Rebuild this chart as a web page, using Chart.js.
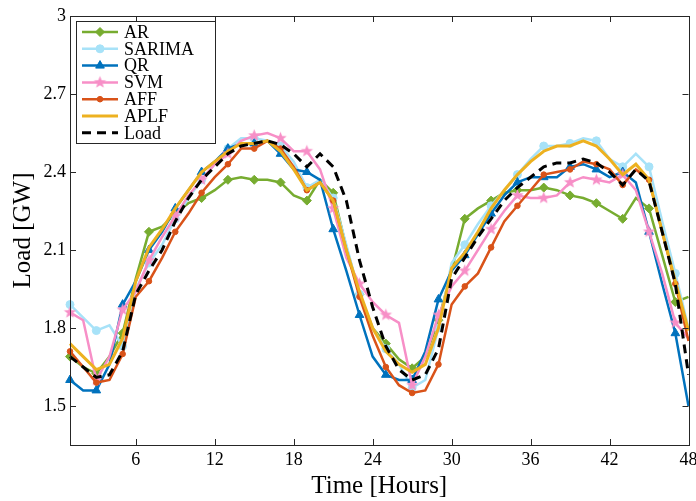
<!DOCTYPE html>
<html>
<head>
<meta charset="utf-8">
<script src="https://cdn.jsdelivr.net/npm/chart.js@4"></script>
<style>
  html, body { margin: 0; padding: 0; background: #fff; }
  canvas { display: block; }
</style>
</head>
<body>
<canvas id="grafico" width="696" height="501"></canvas>
<script>
// horas (eixo x)
const horas = [1, 2, 3, 4, 5, 6, 7, 8, 9, 10, 11, 12, 13, 14, 15, 16, 17, 18, 19, 20, 21, 22, 23, 24,
               25, 26, 27, 28, 29, 30, 31, 32, 33, 34, 35, 36, 37, 38, 39, 40, 41, 42, 43, 44, 45, 46, 47, 48];

// séries (GW)
const ar = [1.69, 1.65, 1.625, 1.69, 1.78, 1.99, 2.17, 2.19, 2.24, 2.28, 2.30, 2.33, 2.37, 2.38, 2.37, 2.37,
            2.36, 2.31, 2.29, 2.37, 2.32, 2.11, 1.93, 1.80, 1.74, 1.68, 1.645, 1.69, 1.83, 2.02, 2.22, 2.26,
            2.29, 2.32, 2.33, 2.33, 2.34, 2.33, 2.31, 2.30, 2.28, 2.25, 2.22, 2.30, 2.26, 2.08, 1.90, 1.92];
const sarima = [1.89, 1.84, 1.79, 1.81, 1.73, 1.95, 2.05, 2.12, 2.22, 2.30, 2.37, 2.43, 2.49, 2.53, 2.53, 2.52,
                2.50, 2.44, 2.34, 2.37, 2.30, 2.12, 1.93, 1.80, 1.72, 1.66, 1.57, 1.60, 1.80, 2.05, 2.12, 2.20,
                2.27, 2.33, 2.39, 2.45, 2.50, 2.50, 2.51, 2.53, 2.52, 2.45, 2.42, 2.47, 2.42, 2.21, 2.01, 1.80];
const qr = [1.60, 1.56, 1.56, 1.66, 1.89, 1.98, 2.10, 2.17, 2.26, 2.33, 2.40, 2.44, 2.49, 2.51, 2.51, 2.52,
            2.47, 2.41, 2.40, 2.37, 2.18, 2.02, 1.85, 1.69, 1.62, 1.60, 1.60, 1.71, 1.91, 2.02, 2.08, 2.16,
            2.24, 2.31, 2.36, 2.38, 2.38, 2.38, 2.42, 2.43, 2.41, 2.38, 2.40, 2.36, 2.17, 1.97, 1.78, 1.50];
const svm = [1.86, 1.83, 1.60, 1.69, 1.87, 1.94, 2.06, 2.15, 2.23, 2.31, 2.37, 2.43, 2.47, 2.52, 2.54, 2.55,
             2.53, 2.48, 2.48, 2.41, 2.26, 2.07, 1.97, 1.90, 1.85, 1.82, 1.58, 1.69, 1.85, 1.96, 2.02, 2.10,
             2.18, 2.25, 2.31, 2.30, 2.30, 2.31, 2.36, 2.38, 2.37, 2.36, 2.39, 2.33, 2.17, 2.01, 1.82, 1.76];
const aff = [1.71, 1.65, 1.59, 1.60, 1.70, 1.92, 1.98, 2.07, 2.17, 2.24, 2.32, 2.38, 2.43, 2.49, 2.49, 2.52,
             2.49, 2.42, 2.33, 2.36, 2.29, 2.10, 1.92, 1.77, 1.65, 1.58, 1.55, 1.56, 1.66, 1.89, 1.96, 2.01,
             2.11, 2.21, 2.27, 2.33, 2.39, 2.40, 2.41, 2.44, 2.43, 2.41, 2.35, 2.41, 2.37, 2.17, 1.97, 1.75];
const aplf = [1.74, 1.69, 1.64, 1.66, 1.76, 1.98, 2.11, 2.18, 2.26, 2.33, 2.40, 2.44, 2.48, 2.51, 2.51, 2.52,
              2.48, 2.41, 2.33, 2.36, 2.29, 2.10, 1.94, 1.80, 1.71, 1.66, 1.63, 1.66, 1.80, 2.03, 2.09, 2.17,
              2.26, 2.33, 2.39, 2.44, 2.48, 2.50, 2.50, 2.52, 2.50, 2.45, 2.39, 2.43, 2.37, 2.17, 1.98, 1.79];
const carga = [1.69, 1.65, 1.61, 1.62, 1.71, 1.93, 2.02, 2.10, 2.21, 2.30, 2.37, 2.42, 2.47, 2.50, 2.51, 2.52,
               2.505, 2.47, 2.42, 2.47, 2.42, 2.29, 2.06, 1.88, 1.73, 1.64, 1.60, 1.62, 1.72, 1.99, 2.07, 2.15,
               2.22, 2.29, 2.34, 2.38, 2.42, 2.435, 2.435, 2.45, 2.435, 2.40, 2.35, 2.41, 2.365, 2.17, 1.97, 1.62];

const xTicks = [6, 12, 18, 24, 30, 36, 42, 48];
const yTicks = [1.5, 1.8, 2.1, 2.4, 2.7, 3];
const yTickLabels = ['1.5', '1.8', '2.1', '2.4', '2.7', '3'];

const FONTE = '"Liberation Serif", "Times New Roman", serif';
const EIXO = '#262626';

// estrela de 5 pontas (pentagrama) para o SVM
function criarEstrela(cor, r) {
    const c = document.createElement('canvas');
    const s = Math.ceil(r * 2 + 2);
    c.width = s; c.height = s;
    const g = c.getContext('2d');
    g.beginPath();
    for (let i = 0; i < 10; i++) {
        const rr = i % 2 === 0 ? r : r * 0.42;
        const a = -Math.PI / 2 + i * Math.PI / 5;
        const px = s / 2 + rr * Math.cos(a);
        const py = s / 2 + rr * Math.sin(a);
        if (i === 0) g.moveTo(px, py); else g.lineTo(px, py);
    }
    g.closePath();
    g.fillStyle = cor;
    g.fill();
    return c;
}
const estrela = criarEstrela('#F78FC7', 6.5);

// marcadores só nas horas ímpares
const aCada2 = r => ctx => (ctx.dataIndex % 2 === 0 ? r : 0);

function serie(label, data, cor, estilo, raio, ordem, extra) {
    return Object.assign({
        label: label,
        data: horas.map((h, i) => ({ x: h, y: data[i] })),
        borderColor: cor,
        backgroundColor: cor,
        pointBackgroundColor: cor,
        pointBorderColor: cor,
        pointBorderWidth: 1,
        pointStyle: estilo,
        pointRadius: aCada2(raio),
        pointHoverRadius: aCada2(raio),
        borderWidth: 2.5,
        tension: 0,
        fill: false,
        clip: 8,
        order: ordem,
        legendRaio: raio
    }, extra || {});
}

const datasets = [
    serie('AR', ar, '#77AC30', 'rectRot', 4.5, 6),
    serie('SARIMA', sarima, '#A7E2F8', 'circle', 4, 5),
    serie('QR', qr, '#0072BD', 'triangle', 5, 4),
    serie('SVM', svm, '#F78FC7', estrela, 6.5, 3),
    serie('AFF', aff, '#D95319', 'circle', 2.8, 2),
    serie('APLF', aplf, '#EDB120', false, 0, 1, { borderWidth: 3 }),
    serie('Load', carga, '#000000', false, 0, 0, { borderWidth: 3, borderDash: [9, 6] })
];

// caixa do eixo com marcas para dentro (estilo MATLAB)
const caixaPlugin = {
    id: 'caixa',
    afterDatasetsDraw(chart) {
        const { ctx, chartArea: a, scales } = chart;
        ctx.save();
        ctx.strokeStyle = EIXO;
        ctx.lineWidth = 1;
        ctx.strokeRect(Math.round(a.left) + 0.5, Math.round(a.top) + 0.5,
                       Math.round(a.right - a.left), Math.round(a.bottom - a.top));
        ctx.beginPath();
        const t = 6;
        xTicks.forEach(v => {
            const px = Math.round(scales.x.getPixelForValue(v)) + 0.5;
            ctx.moveTo(px, a.bottom); ctx.lineTo(px, a.bottom - t);
            ctx.moveTo(px, a.top); ctx.lineTo(px, a.top + t);
        });
        yTicks.forEach(v => {
            const py = Math.round(scales.y.getPixelForValue(v)) + 0.5;
            ctx.moveTo(a.left, py); ctx.lineTo(a.left + t, py);
            ctx.moveTo(a.right, py); ctx.lineTo(a.right - t, py);
        });
        ctx.stroke();
        ctx.restore();
    }
};

// legenda desenhada dentro da área do gráfico
const legendaPlugin = {
    id: 'legendaInterna',
    afterDraw(chart) {
        const { ctx, chartArea: a } = chart;
        const x0 = a.left + 6, y0 = a.top + 5, w = 139, h = 122;
        ctx.save();
        ctx.fillStyle = '#fff';
        ctx.fillRect(x0, y0, w, h);
        ctx.strokeStyle = EIXO;
        ctx.lineWidth = 1;
        ctx.strokeRect(x0 + 0.5, y0 + 0.5, w, h);
        ctx.font = '18px ' + FONTE;
        ctx.textBaseline = 'middle';
        ctx.fillStyle = '#000';
        chart.data.datasets.forEach((ds, i) => {
            const yy = y0 + 11 + i * 16.8;
            ctx.save();
            ctx.strokeStyle = ds.borderColor;
            ctx.lineWidth = ds.borderWidth;
            ctx.setLineDash(ds.borderDash || []);
            ctx.beginPath();
            ctx.moveTo(x0 + 6, yy);
            ctx.lineTo(x0 + 42, yy);
            ctx.stroke();
            ctx.restore();
            if (ds.pointStyle) {
                ctx.fillStyle = ds.borderColor;
                ctx.strokeStyle = ds.borderColor;
                ctx.lineWidth = 1;
                ctx.setLineDash([]);
                Chart.helpers.drawPoint(ctx, {
                    pointStyle: ds.pointStyle,
                    radius: ds.legendRaio,
                    rotation: 0,
                    borderWidth: 1
                }, x0 + 24, yy);
            }
            ctx.fillStyle = '#000';
            ctx.fillText(ds.label, x0 + 48, yy + 1);
        });
        ctx.restore();
    }
};

new Chart(document.getElementById('grafico'), {
    type: 'line',
    data: { datasets: datasets },
    options: {
        responsive: false,
        animation: false,
        events: [],
        layout: { padding: { left: 0, right: 4, top: 16, bottom: 0 } },
        plugins: {
            legend: { display: false },
            tooltip: { enabled: false }
        },
        scales: {
            x: {
                type: 'linear',
                min: 1,
                max: 48,
                afterBuildTicks: s => { s.ticks = xTicks.map(v => ({ value: v })); },
                afterFit: s => { s.height = 56; s.paddingLeft = 0; s.paddingRight = 0; },
                grid: { display: false, drawTicks: false },
                border: { display: false },
                ticks: {
                    autoSkip: false,
                    maxRotation: 0,
                    padding: 4,
                    color: '#000',
                    font: { family: FONTE, size: 18 }
                },
                title: {
                    display: true,
                    text: 'Time [Hours]',
                    color: '#000',
                    font: { family: FONTE, size: 25, lineHeight: 1 },
                    padding: { top: 0, bottom: 2.5 }
                }
            },
            y: {
                min: 1.35,
                max: 3,
                afterBuildTicks: s => { s.ticks = yTicks.map(v => ({ value: v })); },
                afterFit: s => { s.width = 70; s.paddingTop = 0; s.paddingBottom = 0; },
                grid: { display: false, drawTicks: false },
                border: { display: false },
                ticks: {
                    padding: 4,
                    color: '#000',
                    font: { family: FONTE, size: 18 },
                    callback: v => yTickLabels[yTicks.indexOf(v)]
                },
                title: {
                    display: true,
                    text: 'Load [GW]',
                    color: '#000',
                    font: { family: FONTE, size: 25, lineHeight: 1 },
                    padding: { top: 11, bottom: 0 }
                }
            }
        }
    },
    plugins: [caixaPlugin, legendaPlugin]
});
</script>
</body>
</html>
